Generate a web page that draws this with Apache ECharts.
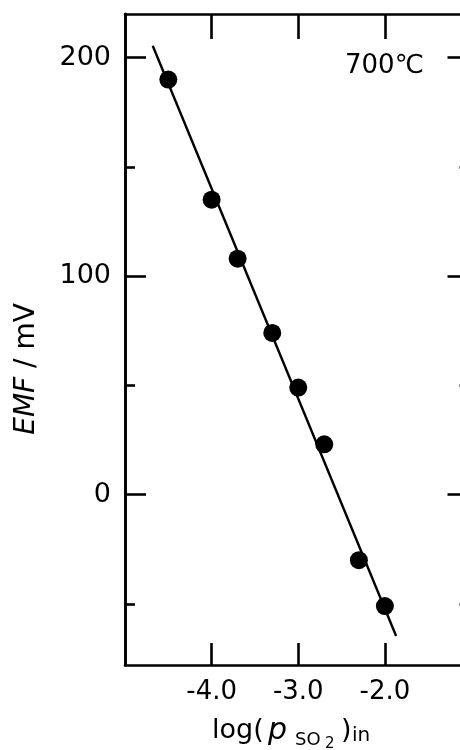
<!DOCTYPE html>
<html>
<head>
<meta charset="utf-8">
<script src="https://cdn.jsdelivr.net/npm/echarts@6/dist/echarts.min.js"></script>
<style>
  html, body { margin: 0; padding: 0; background: #fff; }
  #chart { width: 460px; height: 750px; }
</style>
</head>
<body>
<div id="chart"></div>
<script>
// Data (700 °C)
const logPSO2 = [-4.5, -4.0, -3.7, -3.3, -3.0, -2.7, -2.3, -2.0];
const emfValues = [190, 135, 108, 74, 49, 23, -30, -51];
// fitted line end points
const fitX = [-4.68, -1.87];
const fitY = [205.5, -64.7];
// ticks and labels
const xTickValues = [-4, -3, -2, -1];
const xLabelValues = [-4, -3, -2];
const yMajorTicks = [0, 100, 200];
const yMinorTicks = [-50, 50, 150];
const tempLabel = '700℃';

const FONT = 'DejaVu Sans';
const BLACK = '#000';

const chart = echarts.init(document.getElementById('chart'), null, { renderer: 'canvas' });

function xAxisDef(pos, tickLen, showLabels) {
  return {
    type: 'value', position: pos, min: -5, max: -1, gridIndex: 0,
    axisLine: { show: true, onZero: false, lineStyle: { color: BLACK, width: 2.6 } },
    axisTick: { show: true, inside: true, length: tickLen, customValues: xTickValues,
                lineStyle: { color: BLACK, width: 2.6 } },
    axisLabel: { show: showLabels, customValues: xLabelValues, margin: 14,
                 formatter: v => v.toFixed(1), color: BLACK, fontSize: 26, fontFamily: FONT },
    splitLine: { show: false }
  };
}
function yAxisDef(pos, ticks, tickLen, showLabels) {
  return {
    type: 'value', position: pos, min: -78, max: 220, gridIndex: 0,
    axisLine: { show: true, onZero: false, lineStyle: { color: BLACK, width: 2.6 } },
    axisTick: { show: true, inside: true, length: tickLen, customValues: ticks,
                lineStyle: { color: BLACK, width: 2.6 } },
    axisLabel: { show: showLabels, customValues: yMajorTicks, margin: 14,
                 color: BLACK, fontSize: 27, fontFamily: FONT },
    splitLine: { show: false }
  };
}

const option = {
  backgroundColor: '#fff',
  animation: false,
  grid: { left: 125, top: 14, width: 346.5, height: 651, outerBoundsMode: 'none', containLabel: false },
  xAxis: [
    xAxisDef('bottom', 22, true),
    xAxisDef('top', 25, false)
  ],
  yAxis: [
    yAxisDef('left', yMajorTicks, 21, true),
    yAxisDef('left', yMinorTicks, 10, false),
    yAxisDef('right', yMajorTicks, 24, false),
    yAxisDef('right', yMinorTicks, 12, false)
  ],
  series: [
    {
      type: 'line', xAxisIndex: 0, yAxisIndex: 0,
      data: fitX.map((x, i) => [x, fitY[i]]),
      showSymbol: false, symbol: 'none',
      lineStyle: { color: BLACK, width: 2.4 }, z: 2
    },
    {
      type: 'scatter', xAxisIndex: 0, yAxisIndex: 0,
      data: logPSO2.map((x, i) => [x, emfValues[i]]),
      symbol: 'circle', symbolSize: 18,
      itemStyle: { color: BLACK, opacity: 1 }, z: 3
    }
  ],
  graphic: [
    { type: 'text', x: 27, y: 369, rotation: Math.PI / 2,
      style: { text: '{i|EMF} / mV', fill: BLACK, font: '28px "DejaVu Sans"',
               align: 'center', verticalAlign: 'middle',
               rich: { i: { fontStyle: 'italic', fontSize: 28, fontFamily: FONT, fill: BLACK } } } },
    { type: 'text', x: 345, y: 66,
      style: { text: tempLabel, fill: BLACK, font: '26px "DejaVu Sans"', align: 'left', verticalAlign: 'middle' } },
    { type: 'text', x: 212, y: 731,
      style: { text: 'log(', fill: BLACK, font: '27px "DejaVu Sans"', align: 'left', verticalAlign: 'middle' } },
    { type: 'text', x: 268, y: 731,
      style: { text: 'p', fill: BLACK, font: 'italic 30px "DejaVu Sans"', align: 'left', verticalAlign: 'middle' } },
    { type: 'text', x: 295, y: 740,
      style: { text: 'SO', fill: BLACK, font: '18px "DejaVu Sans"', align: 'left', verticalAlign: 'middle' } },
    { type: 'text', x: 325, y: 744,
      style: { text: '2', fill: BLACK, font: '15px "DejaVu Sans"', align: 'left', verticalAlign: 'middle' } },
    { type: 'text', x: 341, y: 731,
      style: { text: ')', fill: BLACK, font: '27px "DejaVu Sans"', align: 'left', verticalAlign: 'middle' } },
    { type: 'text', x: 352, y: 736,
      style: { text: 'in', fill: BLACK, font: '20px "DejaVu Sans"', align: 'left', verticalAlign: 'middle' } }
  ]
};
chart.setOption(option);
</script>
</body>
</html>
